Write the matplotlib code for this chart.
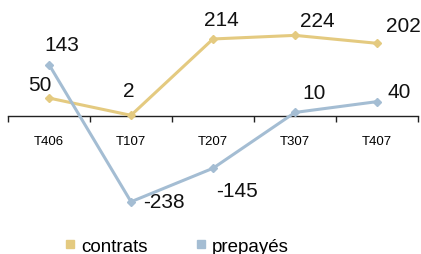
import matplotlib.pyplot as plt
from matplotlib.lines import Line2D

# data
quarters = ["T406", "T107", "T207", "T307", "T407"]
contrats = [50, 2, 214, 224, 202]
prepayes = [143, -238, -145, 10, 40]

# label offsets in pixels (dx, dy)
contrats_off = [(-9, 14), (-2, 25), (8, 19), (22, 15), (26, 18)]
prepayes_off = [(13, 20), (33, 0), (24, -22), (19, 20), (22, 10)]

yellow = "#E4CA80"
blue = "#A4BDD3"

plt.rcParams["font.family"] = ["Liberation Sans", "DejaVu Sans"]

fig = plt.figure(figsize=(4.21, 2.55), dpi=100)
ax = fig.add_axes([8 / 421, 40 / 255, 410 / 421, 215 / 255])

x = range(len(quarters))
ax.plot(x, contrats, color=yellow, lw=2.2, marker="D", ms=4.5, zorder=3)
ax.plot(x, prepayes, color=blue, lw=2.2, marker="D", ms=4.5, zorder=3)

for i, v in enumerate(contrats):
    ax.annotate(str(v), (i, v), xytext=contrats_off[i], textcoords="offset pixels",
                ha="center", va="center", fontsize=15, color="#111111")
for i, v in enumerate(prepayes):
    ax.annotate(str(v), (i, v), xytext=prepayes_off[i], textcoords="offset pixels",
                ha="center", va="center", fontsize=15, color="#111111")

ax.set_xlim(-0.5, 4.5)
ax.set_ylim(-272, 325)

for s in ["top", "right", "left"]:
    ax.spines[s].set_visible(False)
ax.spines["bottom"].set_position(("data", 0))
ax.spines["bottom"].set_color("#222222")
ax.spines["bottom"].set_linewidth(1)
ax.set_yticks([])

ax.set_xticks(list(x))
ax.set_xticklabels(quarters, fontsize=9.5)
ax.tick_params(axis="x", which="major", length=0, pad=14)
ax.set_xticks([i - 0.5 for i in range(len(quarters) + 1)], minor=True)
ax.tick_params(axis="x", which="minor", length=4, width=1, color="#222222", direction="out")

# legend
handles = [
    Line2D([], [], ls="", marker="s", ms=6, color=yellow),
    Line2D([], [], ls="", marker="s", ms=6, color=blue),
]
fig.legend(handles, ["contrats", "prepayés"], loc="center", bbox_to_anchor=(0.42, 0.03),
           ncol=2, frameon=False, fontsize=13.5, handlelength=0.5, handletextpad=0.35,
           columnspacing=2.6)

fig.savefig("out.png", dpi=100)
